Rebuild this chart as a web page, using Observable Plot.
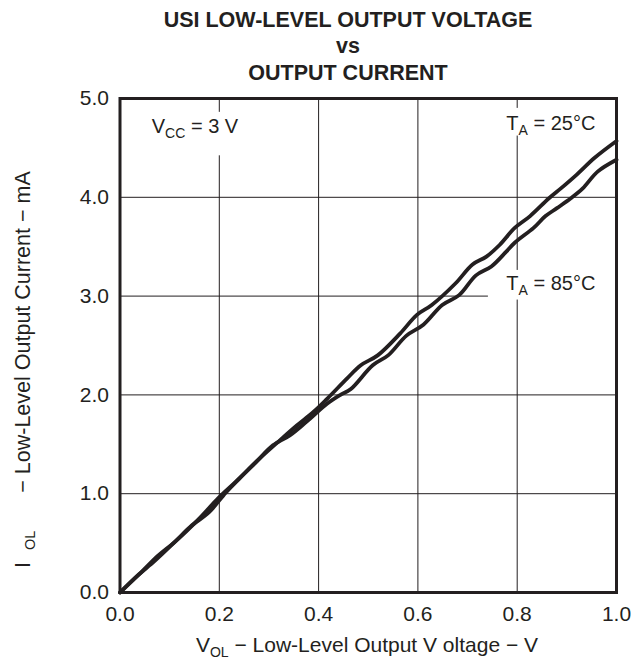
<!DOCTYPE html>
<html>
<head>
<meta charset="utf-8">
<script src="https://cdn.jsdelivr.net/npm/d3@7"></script>
<script src="https://cdn.jsdelivr.net/npm/@observablehq/plot@0.6"></script>
<style>
  html, body { margin: 0; padding: 0; background: #fff; }
  #wrap { width: 641px; height: 660px; position: relative; font-family: "Liberation Sans", Arial, Helvetica, sans-serif; color: #231f20; }
  #title { box-sizing: border-box; width: 641px; height: 86px; padding-top: 6.5px; padding-left: 55px; text-align: center; font-weight: bold; font-size: 21.5px; line-height: 26.5px; }
  #chart svg { display: block; }
</style>
</head>
<body>
<div id="wrap">
  <div id="title">USI LOW-LEVEL OUTPUT VOLTAGE<br>vs<br>OUTPUT CURRENT</div>
  <div id="chart"></div>
</div>
<script>
// ---- data ----
const vol25 = [0, 0.042, 0.076, 0.11, 0.158, 0.199, 0.233, 0.28, 0.322, 0.356, 0.39, 0.417, 0.458, 0.485, 0.519, 0.564, 0.598, 0.628, 0.676, 0.71, 0.738, 0.765, 0.795, 0.826, 0.864, 0.888, 0.92, 0.956, 1.0];
const iol25 = [0, 0.20, 0.37, 0.51, 0.74, 0.96, 1.12, 1.35, 1.54, 1.69, 1.83, 1.96, 2.17, 2.30, 2.40, 2.62, 2.81, 2.91, 3.13, 3.32, 3.40, 3.52, 3.69, 3.81, 3.99, 4.09, 4.23, 4.40, 4.57];
const vol85 = [0, 0.035, 0.07, 0.11, 0.145, 0.179, 0.213, 0.24, 0.274, 0.308, 0.342, 0.376, 0.417, 0.444, 0.465, 0.509, 0.54, 0.577, 0.611, 0.649, 0.683, 0.717, 0.748, 0.778, 0.795, 0.833, 0.857, 0.88, 0.908, 0.932, 0.962, 1.0];
const iol85 = [0, 0.17, 0.32, 0.51, 0.68, 0.81, 1.01, 1.15, 1.32, 1.49, 1.59, 1.73, 1.91, 2.00, 2.06, 2.30, 2.40, 2.60, 2.71, 2.91, 3.01, 3.21, 3.30, 3.45, 3.54, 3.69, 3.81, 3.89, 3.99, 4.09, 4.26, 4.38];
const ticksX = [0, 0.2, 0.4, 0.6, 0.8, 1.0];
const ticksY = [0, 1, 2, 3, 4, 5];
// annotation labels (data coordinates) and their white backing boxes
const labelText = ["VCC = 3 V", "TA = 25°C", "TA = 85°C"];
const labelX = [0.064, 0.778, 0.778];
const labelY = [4.65, 4.683, 3.065];
const boxX1 = [0.04, 0.756, 0.742];
const boxX2 = [0.26, 0.978, 1.0];
const boxY1 = [4.42, 4.62, 2.96];
const boxY2 = [4.86, 4.90, 3.26];

const ink = "#231f20";
const font = "'Liberation Sans', Arial, Helvetica, sans-serif";

const s25 = vol25.map((v, i) => ({v, i: iol25[i]}));
const s85 = vol85.map((v, i) => ({v, i: iol85[i]}));
const labels = labelText.map((t, k) => ({t, x: labelX[k], y: labelY[k]}));
const boxes = boxX1.map((x1, k) => ({x1, x2: boxX2[k], y1: boxY1[k], y2: boxY2[k]}));

const W = 641, H = 574;
const plot = Plot.plot({
  width: W, height: H,
  marginTop: 12, marginBottom: 68, marginLeft: 119.5, marginRight: 25,
  x: {domain: [0, 1]},
  y: {domain: [0, 5]},
  style: {fontFamily: font, fontSize: "21px", color: ink, background: "#fff"},
  marks: [
    Plot.gridX(ticksX, {stroke: ink, strokeOpacity: 1, strokeWidth: 1}),
    Plot.gridY(ticksY, {stroke: ink, strokeOpacity: 1, strokeWidth: 1}),
    Plot.rect(boxes, {x1: "x1", x2: "x2", y1: "y1", y2: "y2", fill: "#fff"}),
    Plot.line(s25, {x: "v", y: "i", stroke: ink, strokeWidth: 3.8, curve: "catmull-rom"}),
    Plot.line(s85, {x: "v", y: "i", stroke: ink, strokeWidth: 3.8, curve: "catmull-rom"}),
    Plot.frame({stroke: ink, strokeWidth: 3}),
    Plot.axisX(ticksX, {tickSize: 0, tickPadding: 14, tickFormat: d3.format(".1f"), fontSize: 21, label: null}),
    Plot.axisY(ticksY, {tickSize: 0, tickPadding: 11, tickFormat: d3.format(".1f"), fontSize: 21, label: null}),
    Plot.text(labels, {x: "x", y: "y", text: "t", textAnchor: "start", lineAnchor: "bottom", fontSize: 20, fill: ink})
  ]
});

// subscripts for annotation labels
const subMap = {
  "VCC = 3 V": [["V", 0], ["CC", 1], [" = 3 V", 0]],
  "TA = 25°C": [["T", 0], ["A", 1], [" = 25°C", 0]],
  "TA = 85°C": [["T", 0], ["A", 1], [" = 85°C", 0]]
};
function setParts(el, parts, subSize, shift) {
  el.textContent = "";
  let down = false;
  for (const [txt, isSub] of parts) {
    const ts = document.createElementNS("http://www.w3.org/2000/svg", "tspan");
    ts.textContent = txt;
    if (isSub) { ts.setAttribute("font-size", subSize); ts.setAttribute("dy", shift); down = true; }
    else if (down) { ts.setAttribute("dy", -shift); down = false; }
    el.appendChild(ts);
  }
}
plot.querySelectorAll("text").forEach(el => {
  const p = subMap[el.textContent];
  if (p) setParts(el, p, 14, 5);
});

// axis titles
const svg = d3.select(plot);
const xt = svg.append("text")
  .attr("x", 367).attr("y", 566)
  .attr("text-anchor", "middle")
  .attr("font-family", font).attr("font-size", 21).attr("fill", ink).node();
setParts(xt, [["V", 0], ["OL", 1], [" \u2212 Low-Level Output V oltage \u2212 V", 0]], 14, 5);

const yt = svg.append("text")
  .attr("transform", "translate(29.5,482) rotate(-90)")
  .attr("text-anchor", "start")
  .attr("style", "white-space: pre")
  .attr("font-family", font).attr("font-size", 21.5).attr("fill", ink).node();
const yParts = [["I", 0, 0, 0], ["OL", 1, 5, 12], ["  \u2212 Low-Level Output Current \u2212 mA", 0, -5, 26]];
for (const [txt, isSub, dy, dx] of yParts) {
  const ts = document.createElementNS("http://www.w3.org/2000/svg", "tspan");
  ts.textContent = txt;
  if (isSub) ts.setAttribute("font-size", 14.5);
  if (dy) ts.setAttribute("dy", dy);
  if (dx) ts.setAttribute("dx", dx);
  yt.appendChild(ts);
}

document.getElementById("chart").appendChild(plot);
</script>
</body>
</html>
